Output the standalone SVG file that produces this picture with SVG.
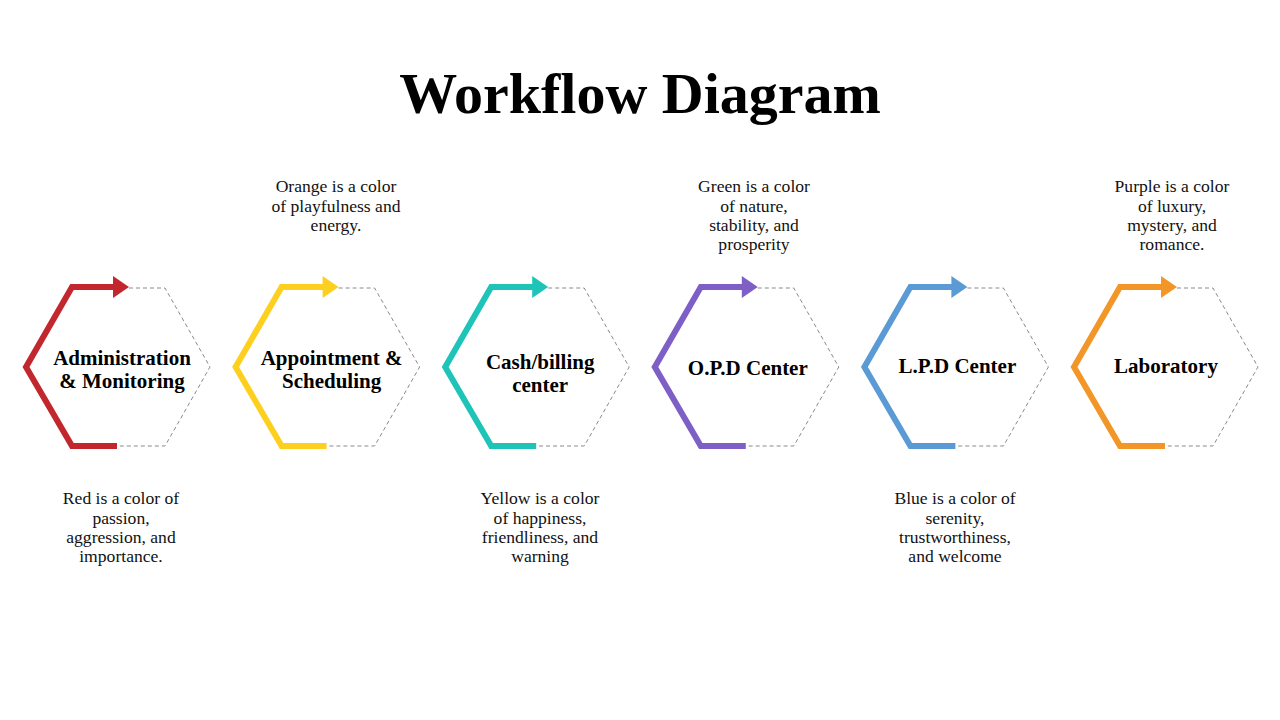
<svg xmlns="http://www.w3.org/2000/svg" width="1280" height="720" viewBox="0 0 1280 720">
<style>
.title{font-family:"Liberation Serif","DejaVu Serif",serif;font-weight:bold;font-size:58px;fill:#000;text-anchor:middle}
.lbl{font-family:"Liberation Serif","DejaVu Serif",serif;font-weight:bold;font-size:21px;fill:#000;text-anchor:middle}
.desc{font-family:"Liberation Serif","DejaVu Serif",serif;font-size:17.6px;fill:#111;text-anchor:middle}
.dash{fill:none;stroke:#8a8a8a;stroke-width:1;stroke-dasharray:4 3}
.arc{fill:none;stroke-width:6;stroke-linejoin:miter}
</style>
<defs>
<g id="shape">
<path class="dash" d="M105,1 L141,1 L186,80 L141,159 L93,159"/>
</g>
</defs>
<rect width="1280" height="720" fill="#fff"/>
<text class="title" x="640" y="113">Workflow Diagram</text>

<g id="node1" transform="translate(24,287)">
<use href="#shape"/>
<path class="arc" stroke="#C1272D" d="M93,159 L48,159 L2,80 L48,0 L91,0"/>
<polygon fill="#C1272D" points="89,-11 105,0 89,11"/>
<text class="lbl" x="98" y="78">Administration</text>
<text class="lbl" x="98" y="101">&amp; Monitoring</text>
</g>
<g id="node2" transform="translate(233.6,287)">
<use href="#shape"/>
<path class="arc" stroke="#FDD01F" d="M93,159 L48,159 L2,80 L48,0 L91,0"/>
<polygon fill="#FDD01F" points="89,-11 105,0 89,11"/>
<text class="lbl" x="98" y="78">Appointment &amp;</text>
<text class="lbl" x="98" y="101">Scheduling</text>
</g>
<g id="node3" transform="translate(443.2,287)">
<use href="#shape"/>
<path class="arc" stroke="#1FC4B9" d="M93,159 L48,159 L2,80 L48,0 L91,0"/>
<polygon fill="#1FC4B9" points="89,-11 105,0 89,11"/>
<text class="lbl" x="97" y="82">Cash/billing</text>
<text class="lbl" x="97" y="105">center</text>
</g>
<g id="node4" transform="translate(652.8,287)">
<use href="#shape"/>
<path class="arc" stroke="#7E5FC6" d="M93,159 L48,159 L2,80 L48,0 L91,0"/>
<polygon fill="#7E5FC6" points="89,-11 105,0 89,11"/>
<text class="lbl" x="95" y="88">O.P.D Center</text>
</g>
<g id="node5" transform="translate(862.4,287)">
<use href="#shape"/>
<path class="arc" stroke="#5B9BD5" d="M93,159 L48,159 L2,80 L48,0 L91,0"/>
<polygon fill="#5B9BD5" points="89,-11 105,0 89,11"/>
<text class="lbl" x="95" y="86">L.P.D Center</text>
</g>
<g id="node6" transform="translate(1072,287)">
<use href="#shape"/>
<path class="arc" stroke="#F39628" d="M93,159 L48,159 L2,80 L48,0 L91,0"/>
<polygon fill="#F39628" points="89,-11 105,0 89,11"/>
<text class="lbl" x="94" y="86">Laboratory</text>
</g>

<g id="desc1">
<text class="desc" x="121" y="504">Red is a color of</text>
<text class="desc" x="121" y="524">passion,</text>
<text class="desc" x="121" y="543">aggression, and</text>
<text class="desc" x="121" y="562">importance.</text>
</g>
<g id="desc2">
<text class="desc" x="336" y="192">Orange is a color</text>
<text class="desc" x="336" y="212">of playfulness and</text>
<text class="desc" x="336" y="231">energy.</text>
</g>
<g id="desc3">
<text class="desc" x="540" y="504">Yellow is a color</text>
<text class="desc" x="540" y="524">of happiness,</text>
<text class="desc" x="540" y="543">friendliness, and</text>
<text class="desc" x="540" y="562">warning</text>
</g>
<g id="desc4">
<text class="desc" x="754" y="192">Green is a color</text>
<text class="desc" x="754" y="212">of nature,</text>
<text class="desc" x="754" y="231">stability, and</text>
<text class="desc" x="754" y="250">prosperity</text>
</g>
<g id="desc5">
<text class="desc" x="955" y="504">Blue is a color of</text>
<text class="desc" x="955" y="524">serenity,</text>
<text class="desc" x="955" y="543">trustworthiness,</text>
<text class="desc" x="955" y="562">and welcome</text>
</g>
<g id="desc6">
<text class="desc" x="1172" y="192">Purple is a color</text>
<text class="desc" x="1172" y="212">of luxury,</text>
<text class="desc" x="1172" y="231">mystery, and</text>
<text class="desc" x="1172" y="250">romance.</text>
</g>
</svg>
